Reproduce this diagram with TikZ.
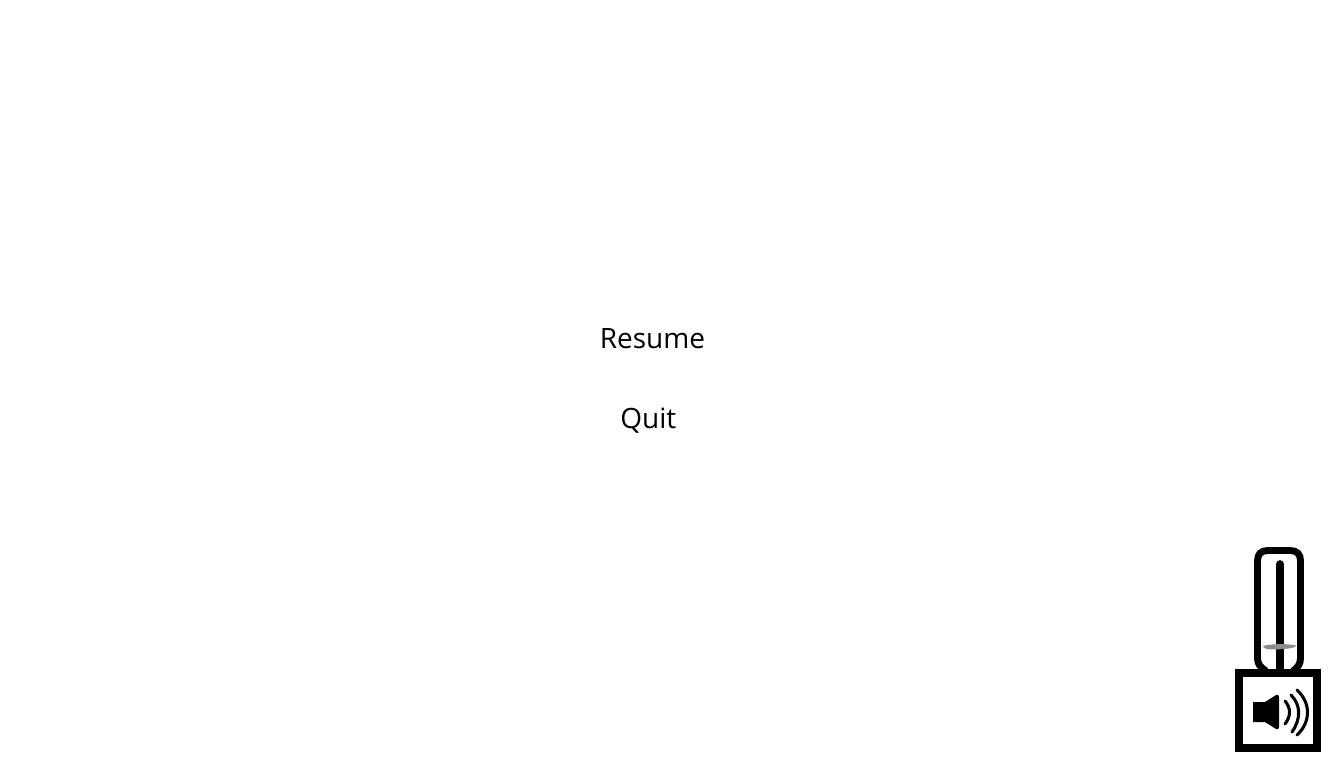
\documentclass[tikz,border=0pt]{standalone}
\usepackage{fontspec}
\setmainfont{Open Sans}
\begin{document}
\begin{tikzpicture}[x=0.75pt,y=-0.75pt,
  label text/.style={inner sep=0pt,anchor=base west,font=\fontsize{21}{24}\selectfont,text=black},
  frame/.style={draw=black,line width=6pt},
  wave/.style={draw=black,line width=2.3pt,line cap=round}]
\useasboundingbox (0,0) rectangle (1328,758);
\node[label text] (resume) at (599.5,348) {Resume};
\node[label text] (quit) at (620,428) {Quit};
% slider
\draw[black,line width=5.2pt] (1266,671) .. controls (1260,667) and (1257.5,664) .. (1257.5,658) -- (1257.5,561) .. controls (1257.5,554) and (1261,550.5) .. (1268,550.5) -- (1290,550.5) .. controls (1297,550.5) and (1300.5,554) .. (1300.5,561) -- (1300.5,658) .. controls (1300.5,664) and (1298,667) .. (1293,671);
\draw[black,line width=5.8pt,line cap=round] (1280,564) -- (1280,669);
\fill[black!45] (1263,646) .. controls (1270,643.6) and (1290,643.6) .. (1296,645.5) .. controls (1297,647) and (1290,649.6) .. (1270,649.4) .. controls (1266,649) and (1263,648) .. (1263,646) -- cycle;
% button
\draw[frame] (1239,673) rectangle (1317,748);
% speaker
\fill[black] (1253,702) -- (1265,702) -- (1276,695) .. controls (1278,694) and (1279,695) .. (1279,697) -- (1279,727) .. controls (1279,729) and (1278,730) .. (1276,729) -- (1265,722) -- (1253,722) -- cycle;
\draw[wave] (1285,701) .. controls (1291,708) and (1291,716) .. (1285,724);
\draw[wave] (1291,695) .. controls (1301,705) and (1301,719) .. (1292,732);
\draw[wave] (1297,690) .. controls (1311,703) and (1311,722) .. (1297,735);
\end{tikzpicture}
\end{document}
